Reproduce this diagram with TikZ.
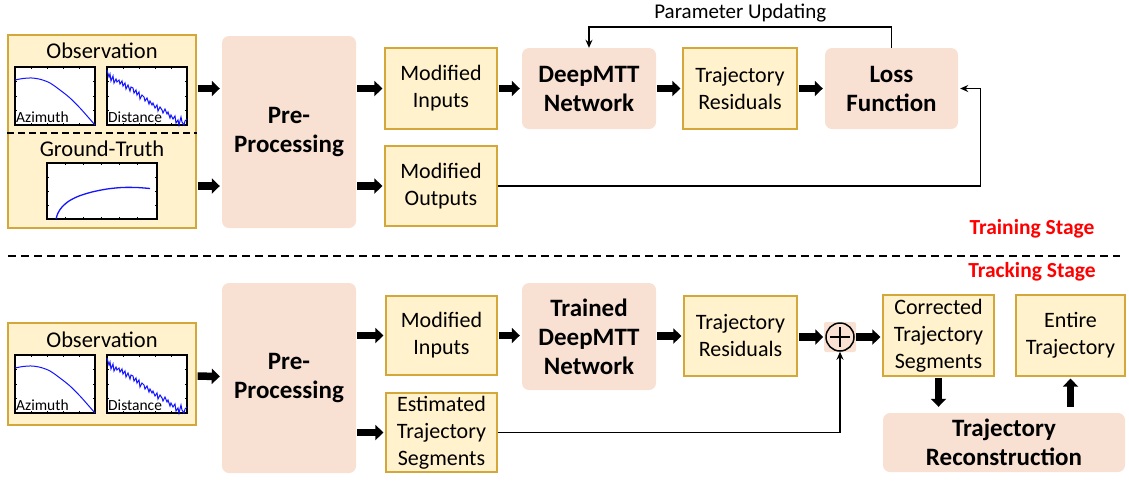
\documentclass[tikz,border=0pt]{standalone}
\usepackage{fontspec}
\setmainfont{Carlito}
\usepackage{tikz}
\usetikzlibrary{arrows.meta,positioning,calc}
\usepackage{xcolor}

\definecolor{boxfill}{RGB}{255,242,204}
\definecolor{boxline}{RGB}{212,167,58}
\definecolor{procfill}{RGB}{248,225,211}
\definecolor{curveblue}{RGB}{20,20,255}

\tikzset{
  databox/.style={draw=boxline,fill=boxfill,line width=1.2pt,align=center,inner sep=0pt,
    font=\fontsize{22}{27}\selectfont},
  procbox/.style={fill=procfill,rounded corners=7pt,align=center,inner sep=0pt,
    font=\bfseries\fontsize{25}{29}\selectfont},
  fat/.style={line width=7.5pt,-{Triangle[length=8pt,width=15pt]},shorten <=1pt,shorten >=2pt},
  feed/.style={line width=1.4pt,-{Stealth[length=8pt,width=7pt]}},
  plotframe/.style={draw=black,line width=1.3pt,fill=white},
  plotcurve/.style={curveblue,line width=1pt},
  stagelabel/.style={text=red,font=\bfseries\fontsize{21.5}{25}\selectfont}
}

\begin{document}
\begin{tikzpicture}[x=1pt,y=-1pt]
  \useasboundingbox (0,0) rectangle (1129,480);

  % observation panels
  \node[databox,minimum width=188pt,minimum height=193pt] (obs1) at (102,131.5) {};
  \node[databox,minimum width=188pt,minimum height=102pt] (obs2) at (102,374) {};
  \draw[dashed,line width=1.4pt,dash pattern=on 7pt off 4pt] (obs1.west|-0,133) -- (obs1.east|-0,133);
  \node[font=\fontsize{22.5}{26}\selectfont] (obstxt1) at (102,51) {Observation};
  \node[font=\fontsize{22.5}{26}\selectfont] (gttxt) at (102,149) {Ground-Truth};
  \node[font=\fontsize{22.5}{26}\selectfont] (obstxt2) at (102,340) {Observation};

  % little plots (top and bottom)
  \foreach \dy in {0,288} {
    \begin{scope}[shift={(15,67+\dy)}]
      \draw[plotframe] (0,0) rectangle (80,58);
      \foreach \t in {16,32,48,64} {
        \draw[line width=0.6pt] (\t,0) -- (\t,2) (\t,58) -- (\t,56);
      }
      \foreach \t in {14.5,29,43.5} {
        \draw[line width=0.6pt] (0,\t) -- (2,\t) (80,\t) -- (78,\t);
      }
      \draw[plotcurve] plot[smooth] coordinates {(0,13) (8,11.5) (17,11) (26,12.5) (35,16) (45,23)
        (55,31) (65,41) (73,50) (80,58)};
      \node[anchor=south west,inner sep=1pt,font=\fontsize{15.5}{17}\selectfont] at (0,57) {Azimuth};
    \end{scope}
    \begin{scope}[shift={(107,67+\dy)}]
      \draw[plotframe] (0,0) rectangle (80,58);
      \foreach \t in {16,32,48,64} {
        \draw[line width=0.6pt] (\t,0) -- (\t,2) (\t,58) -- (\t,56);
      }
      \foreach \t in {14.5,29,43.5} {
        \draw[line width=0.6pt] (0,\t) -- (2,\t) (80,\t) -- (78,\t);
      }
      \draw[plotcurve] (0,3) -- (2,10) -- (3,7) -- (4,14) -- (6,9) -- (7,16) -- (9,12) -- (10,15)
        -- (12,13) -- (13,17) -- (15,14) -- (16,19) -- (18,16) -- (19,22) -- (21,18) -- (23,24)
        -- (24,20) -- (26,21) -- (27,26) -- (29,23) -- (30,28) -- (32,25) -- (33,32) -- (35,28)
        -- (37,30) -- (38,34) -- (40,31) -- (42,37) -- (43,34) -- (45,38) -- (46,36) -- (48,41)
        -- (50,38) -- (51,44) -- (53,40) -- (55,43) -- (56,46) -- (58,42) -- (60,47) -- (61,45)
        -- (63,51) -- (64,48) -- (66,52) -- (68,49) -- (69,56) -- (71,53) -- (72,58) -- (74,50)
        -- (75,55) -- (77,58) -- (78,54) -- (80,52);
      \node[anchor=south west,inner sep=1pt,font=\fontsize{15.5}{17}\selectfont] at (0,57) {Distance};
    \end{scope}
  }
  \begin{scope}[shift={(47,163)}]
    \draw[plotframe] (0,0) rectangle (110,56);
    \foreach \t in {18,36,54,72,90} {
      \draw[line width=0.6pt] (\t,0) -- (\t,2) (\t,56) -- (\t,54);
    }
    \foreach \t in {14,28,42} {
      \draw[line width=0.6pt] (0,\t) -- (2,\t) (110,\t) -- (108,\t);
    }
    \draw[plotcurve,line width=1.3pt] plot[smooth] coordinates {(9,56) (11,50) (15,44) (22,38) (32,33)
      (45,29) (60,26) (75,24.5) (90,24.5) (103,25.5)};
  \end{scope}

  % training stage
  \node[procbox,minimum width=134pt,minimum height=192pt] (pre1) at (289,132) {Pre-\\Processing};
  \node[databox,minimum width=112pt,minimum height=81pt] (minp1) at (441,88.5) {Modified\\Inputs};
  \node[databox,minimum width=112pt,minimum height=80pt] (mout1) at (441,186) {Modified\\Outputs};
  \node[procbox,minimum width=134pt,minimum height=81pt] (deep1) at (589,88.5) {DeepMTT\\Network};
  \node[databox,minimum width=114pt,minimum height=81pt] (res1) at (740,88.5) {Trajectory\\Residuals};
  \node[procbox,minimum width=133pt,minimum height=81pt] (loss1) at (891.5,88.5) {Loss\\Function};

  \draw[fat] (obs1.east|-minp1) -- (pre1.west|-minp1);
  \draw[fat] (obs1.east|-mout1) -- (pre1.west|-mout1);
  \draw[fat] (pre1.east|-minp1) -- (minp1);
  \draw[fat] (pre1.east|-mout1) -- (mout1);
  \draw[fat] (minp1) -- (deep1);
  \draw[fat] (deep1) -- (res1);
  \draw[fat] (res1) -- (loss1);
  \draw[feed] (loss1.north) -- ++(0,-21) -| node[pos=0.25,above=1pt,font=\fontsize{21}{24}\selectfont]
    {Parameter Updating} (deep1.north);
  \draw[feed,shorten >=2pt] (mout1.east) -- ++(483,0) |- (loss1.east);

  \node[stagelabel] (train) at (1032,229) {Training Stage};
  \draw[dashed,line width=1.4pt,dash pattern=on 8pt off 5pt] (8,256) -- (1120,256);
  \node[stagelabel] (track) at (1032,272) {Tracking Stage};

  % tracking stage
  \node[procbox,minimum width=134pt,minimum height=190pt] (pre2) at (289,378) {Pre-\\Processing};
  \node[databox,minimum width=111pt,minimum height=79pt] (minp2) at (441.5,335.5) {Modified\\Inputs};
  \node[databox,minimum width=111pt,minimum height=79pt] (est2) at (441.5,432.5) {Estimated\\Trajectory\\Segments};
  \node[procbox,minimum width=134pt,minimum height=107pt] (deep2) at (589,336.5) {Trained\\DeepMTT\\Network};
  \node[databox,minimum width=113pt,minimum height=80pt] (res2) at (740.5,336) {Trajectory\\Residuals};
  \node[fill=procfill,rounded corners=2pt,minimum width=32pt,minimum height=30pt] (plusbg) at (840,337) {};
  \node[circle,draw,line width=1.5pt,minimum size=28pt,inner sep=0pt] (plus) at (840,337) {};
  \draw[line width=1.8pt] ([yshift=-10pt]plus.center) -- ([yshift=10pt]plus.center)
    ([xshift=-10pt]plus.center) -- ([xshift=10pt]plus.center);
  \node[databox,minimum width=111pt,minimum height=81pt] (corr) at (938.5,335.5) {Corrected\\Trajectory\\Segments};
  \node[databox,minimum width=109pt,minimum height=81pt] (entire) at (1070.5,335.5) {Entire\\Trajectory};
  \node[procbox,minimum width=242pt,minimum height=59pt] (recon) at (1004,442.5) {Trajectory\\Reconstruction};

  \draw[fat] (obs2) -- (pre2);
  \draw[fat] (pre2.east|-minp2) -- (minp2);
  \draw[fat] (pre2.east|-est2) -- (est2);
  \draw[fat] (minp2) -- (deep2.west|-minp2);
  \draw[fat] (deep2.east|-res2) -- (res2);
  \draw[fat] (res2.east|-plus) -- (plus);
  \draw[fat] (plus) -- (corr.west|-plus);
  \draw[feed] (est2.east) -| (plus.south);
  \draw[fat,shorten >=6pt] (corr.south) -- (corr.south|-recon.north);
  \draw[fat,shorten <=6pt] (entire.south|-recon.north) -- (entire.south);
\end{tikzpicture}
\end{document}
